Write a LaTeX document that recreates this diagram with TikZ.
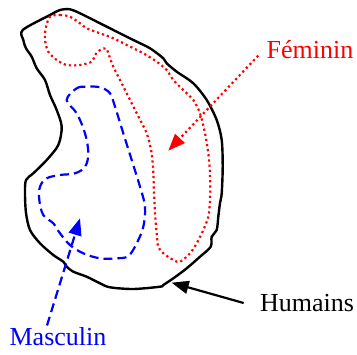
\documentclass[tikz,border=0pt]{standalone}
\usepackage{fontspec}
\setmainfont{Liberation Serif}
\usetikzlibrary{arrows.meta}
\definecolor{FemRed}{HTML}{FF0000}
\definecolor{MasBlue}{HTML}{0000FF}

\begin{document}
\begin{tikzpicture}[x=0.5pt,y=-0.5pt,
  outline/.style={line width=1.2pt,line join=round},
  femline/.style={FemRed,line width=1.1pt,dash pattern=on 1.1pt off 1.5pt},
  masline/.style={MasBlue,line width=1.1pt,dash pattern=on 4.5pt off 2.5pt},
  label/.style={font=\fontsize{13}{15}\selectfont,inner sep=1pt},
  arr/.style={-{Triangle[length=8.5pt,width=6.5pt]},line width=1.1pt}]
  \useasboundingbox (0,0) rectangle (357,354);
  % Humains
  \draw[outline] plot[smooth cycle,tension=0.5] coordinates {
    (22.7,30) (50,15) (60,10) (70,9.3) (80,13.3) (100,23.3) (116.7,31.7)
    (133.3,40) (150,48.3) (163.3,58.3) (166.7,63.3) (176.7,71.7) (193.3,83.3)
    (206.7,100) (216.7,120) (221.7,140) (222.7,166.7) (221.7,193.3) (220,203)
    (218.3,216.7) (216.7,230) (211.7,236.7) (210.7,246.7) (200,256.7)
    (186.7,268.3) (173.3,278.3) (163.3,285) (160,286.7) (133.3,289) (110,287.3)
    (100,283.3) (86.7,276.7) (73.3,271.7) (66.7,266.7) (63.3,261.7) (53.3,255)
    (40,243.3) (30,230) (26,213) (25,193.3) (26,180) (33.3,173.3) (46.7,160)
    (58.3,145) (61.7,126.7) (56.7,110) (50,95) (45,80) (36.7,68.3) (31.7,56.7)
    (26,48.3) (23.3,40)};
  % Feminin
  \draw[femline] plot[smooth cycle,tension=0.5] coordinates {
    (50,16.7) (60,15) (70,16.7) (80,23.3) (86.7,28.3) (100,33.3) (113.3,38.3)
    (126.7,45) (143.3,53.3) (156.7,61.7) (166.7,70) (173.3,80) (183.3,90)
    (193.3,100) (200,113.3) (205,133.3) (208.3,153.3) (210,173.3) (210,200)
    (208.3,216.7) (203.3,230) (196.7,243.3) (190,253.3) (180,261.7) (173.3,260)
    (163.3,253.3) (158.3,246.7) (156.7,233.3) (155,213.3) (154,193.3)
    (153.3,173.3) (151.7,153.3) (146.7,133.3) (136.7,113.3) (126.7,93.3)
    (120,80) (113.3,66.7) (108.3,53.3) (106,48.3) (100,50) (95,55) (91.7,61.7)
    (80,65) (66.7,65) (56.7,60) (48.3,51.7) (45,40) (45.7,28.3)};
  % Masculin
  \draw[masline] plot[smooth cycle,tension=0.6] coordinates {
    (66.7,100) (76.7,88.3) (86.7,86.7) (100,87.3) (110,93.3) (115,106.7)
    (123.3,133.3) (131.7,160) (140,186.7) (145,206.7) (143.3,226.7)
    (136.7,243.3) (128.3,256) (116.7,258.3) (100,258.3) (83.3,253.3) (70,245)
    (60,233.3) (53.3,223.3) (43.3,215) (39.3,200) (40,186.7) (46.7,178.3)
    (60,175) (75,173.3) (85,166.7) (88.3,153.3) (85,133.3) (76.7,113.3)};
  % labels
  \node[label,text=FemRed] (feminin) at (310,50) {Féminin};
  \node[label,text=MasBlue] (masculin) at (58,337) {Masculin};
  \node[label] (humains) at (307,303) {Humains};
  \coordinate (femtip) at (168.3,150.7);
  \coordinate (mastip) at (80,218.3);
  \coordinate (humtip) at (171.7,282.7);
  \draw[arr,femline] ([shift={(-3pt,3pt)}]feminin.south west) -- (femtip);
  \draw[arr,masline] ([xshift=-5.5pt]masculin.north) -- (mastip);
  \draw[arr] ([xshift=-7pt]humains.west) -- (humtip);
\end{tikzpicture}
\end{document}
